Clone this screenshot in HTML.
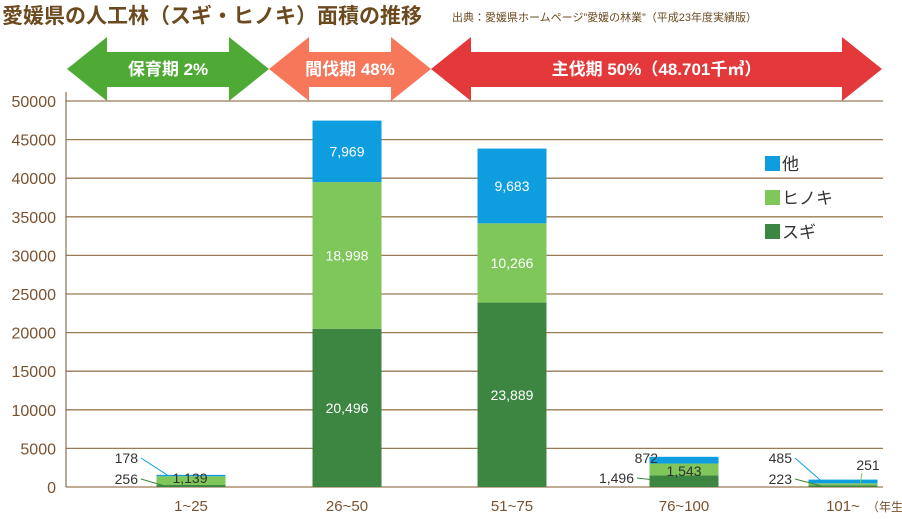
<!DOCTYPE html>
<html><head><meta charset="utf-8">
<style>
body{margin:0;background:#fff;width:902px;height:514px;overflow:hidden;font-family:"Liberation Sans","Noto Sans CJK JP",sans-serif}
svg text{font-family:"Liberation Sans","Noto Sans CJK JP",sans-serif}
</style></head>
<body>
<svg id="chart" width="902" height="514" viewBox="0 0 902 514">
<text x="2" y="23" font-size="21" font-weight="bold" fill="#6b4a1f">愛媛県の人工林（スギ・ヒノキ）面積の推移</text>
<text x="452" y="21" font-size="11" fill="#6b4a1f">出典：愛媛県ホームページ”愛媛の林業”（平成23年度実績版）</text>
<g id="arrows"></g>
<g id="grid"></g>
<g id="bars"></g>
<g id="legend"></g>
</svg>
<script>
const categories=["1~25","26~50","51~75","76~100","101~"];
const sugi=[256,20496,23889,1496,223];
const hinoki=[1139,18998,10266,1543,251];
const other=[178,7969,9683,872,485];
const yTicks=[0,5000,10000,15000,20000,25000,30000,35000,40000,45000,50000];
const phases=[{label:"保育期 2%",x0:67,x1:269,c:"#4ea935"},{label:"間伐期 48%",x0:269,x1:431,c:"#f6775a"},{label:"主伐期 50%（48.701千㎥）",x0:431,x1:882,c:"#e3393a"}];
const NS="http://www.w3.org/2000/svg";
const y=v=>487-v*386/50000;
const xc=[191,347,512,684,843];
const bw=69;
function mk(tag,attrs,parent,text){const e=document.createElementNS(NS,tag);for(const k in attrs)e.setAttribute(k,attrs[k]);if(text!==undefined)e.textContent=text;parent.appendChild(e);return e;}
const gA=document.getElementById('arrows');
phases.forEach(p=>{
const h=40,t=37,b=101,bt=52,bb=87,m=69;
const poly=mk('polygon',{points:`${p.x0},${m} ${p.x0+h},${t} ${p.x0+h},${bt} ${p.x1-h},${bt} ${p.x1-h},${t} ${p.x1},${m} ${p.x1-h},${b} ${p.x1-h},${bb} ${p.x0+h},${bb} ${p.x0+h},${b}`,fill:p.c},gA);


const t2=mk('text',{x:(p.x0+p.x1)/2,y:m+6,'text-anchor':'middle','font-size':17,'font-weight':'bold',fill:'#fff'},gA,p.label);


});
const gG=document.getElementById('grid');
yTicks.forEach(v=>{
const l=mk('line',{x1:66,x2:883,y1:y(v),y2:y(v),stroke:'#9a7a55','stroke-width':1.3},gG);


const t=mk('text',{x:56,y:y(v)+6,'text-anchor':'end','font-size':16,fill:'#7a5230'},gG,v);


});
const ax=mk('line',{x1:66,x2:66,y1:92,y2:487,stroke:'#7a5230','stroke-width':1},gG);


const gB=document.getElementById('bars');
const colors=["#3c8642","#7fc75b","#0e9ee0"];
categories.forEach((c,i)=>{
let base=0;
[sugi[i],hinoki[i],other[i]].forEach((v,j)=>{
const r=mk('rect',{x:xc[i]-bw/2,y:y(base+v),width:bw,height:y(base)-y(base+v),fill:colors[j]},gB);


if(v>5000){const t=mk('text',{x:xc[i],y:(y(base)+y(base+v))/2+5,'text-anchor':'middle','font-size':14,fill:'#fff'},gB,v.toLocaleString('en-US'));

}
base+=v;
});
const xl=mk('text',{x:xc[i],y:511,'text-anchor':'middle','font-size':15,fill:'#7a5230'},gB,c);


});
const yu=mk('text',{x:867,y:511,'font-size':12,fill:'#7a5230'},gB,"（年生）");


// callouts for small bars
const callouts=[
[0,2,"178",138,463,168,y(sugi[0]+hinoki[0]+other[0]/2),'#0e9ee0','end'],
[0,1,"1,139",190,483,0,0,null,'middle'],
[0,0,"256",138,484,165,y(sugi[0]/2),'#3c8642','end'],
[3,2,"872",658,463,666,y(sugi[3]+hinoki[3]+other[3]/2),'#0e9ee0','end'],
[3,1,"1,543",684,476,0,0,null,'middle'],
[3,0,"1,496",634,483,666,y(sugi[3]/2),'#3c8642','end'],
[4,2,"485",792,463,822,y(sugi[4]+hinoki[4]+other[4]/2),'#0e9ee0','end'],
[4,1,"251",868,470,860,y(sugi[4]+hinoki[4]/2),'#7fc75b','middle'],
[4,0,"223",792,484,822,y(sugi[4]/2),'#3c8642','end']];
callouts.forEach(c=>{
const vals=[sugi,hinoki,other][c[1]];
if(c[7]){const l=mk('line',{x1:c[0]==4&&c[1]==1?862:c[3]+3,y1:c[0]==4&&c[1]==1?473:c[4]-5,x2:c[5],y2:c[6],stroke:c[7],'stroke-width':1},gB);

}
const t=mk('text',{x:c[3],y:c[4],'text-anchor':c[8],'font-size':14,fill:'#333'},gB,vals[c[0]].toLocaleString('en-US'));


});
const gL=document.getElementById('legend');
[["他","#0e9ee0",156],["ヒノキ","#7fc75b",190],["スギ","#3c8642",224]].forEach(l=>{
const r=mk('rect',{x:765,y:l[2],width:15,height:15,fill:l[1]},gL);


const t=mk('text',{x:782,y:l[2]+14,'font-size':17,fill:'#333'},gL,l[0]);


});
</script>
</body></html>
